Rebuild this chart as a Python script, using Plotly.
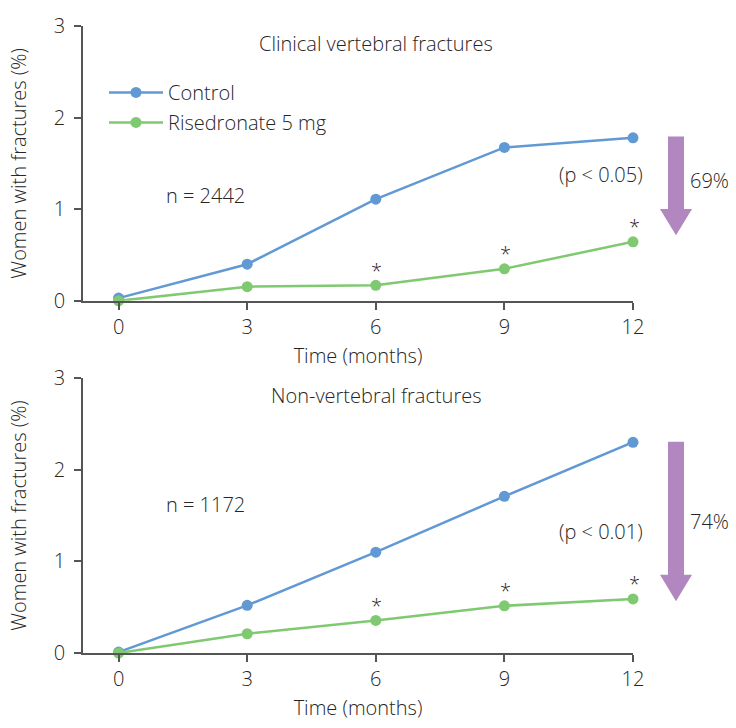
import plotly.graph_objects as go

months = [0, 3, 6, 9, 12]
tick_vals_y = [0, 1, 2, 3]

vert_control = [0.03, 0.40, 1.11, 1.675, 1.78]
vert_rise = [0.0, 0.155, 0.17, 0.35, 0.645]
nonvert_control = [0.01, 0.52, 1.10, 1.71, 2.30]
nonvert_rise = [0.0, 0.21, 0.355, 0.515, 0.59]

sig_months = [6, 9, 12]

titles = ["Clinical vertebral fractures", "Non-vertebral fractures"]
n_labels = ["n = 2442", "n = 1172"]
p_labels = ["(p < 0.05)", "(p < 0.01)"]
reductions = ["69%", "74%"]

BLUE = "#6199d4"
GREEN = "#7fc971"
PURPLE = "#b286bf"
TXT = "#262626"
AX = "#555555"
FONT = "Open Sans"
FS = 20
FW = 300

W, H = 736, 728
ML, MR, MT, MB = 83, 103, 17, 70
PW = W - ML - MR
PH = H - MT - MB


def px(x):
    return (x - ML) / PW


def py(y):
    return (H - MB - y) / PH


def fnt():
    return dict(family=FONT, size=FS, color=TXT, weight=FW)


fig = go.Figure()

panels = [
    ("x", "y", vert_control, vert_rise, True),
    ("x2", "y2", nonvert_control, nonvert_rise, False),
]
for xa, ya, ctrl, rise, leg in panels:
    fig.add_trace(go.Scatter(
        x=months, y=ctrl, mode="lines+markers", name="Control",
        line=dict(color=BLUE, width=2.5), marker=dict(size=11, color=BLUE),
        xaxis=xa, yaxis=ya, cliponaxis=False, showlegend=leg, legendgroup="c"))
    fig.add_trace(go.Scatter(
        x=months, y=rise, mode="lines+markers", name="Risedronate 5 mg",
        line=dict(color=GREEN, width=2.5), marker=dict(size=11, color=GREEN),
        xaxis=xa, yaxis=ya, cliponaxis=False, showlegend=leg, legendgroup="r"))

annotations = []
shapes = []

# asterisks
for xa, ya, rise in [("x", "y", vert_rise), ("x2", "y2", nonvert_rise)]:
    for m in sig_months:
        annotations.append(dict(
            x=m, y=rise[months.index(m)], xref=xa, yref=ya, text="*",
            showarrow=False, yshift=15, xshift=1, font=fnt()))

# panel texts
layout_px = [
    dict(title_y=35, n_y=190, p_y=169, r_y=175, arrow=(130, 204, 231)),
    dict(title_y=395, n_y=506, p_y=534, r_y=524, arrow=(442, 578, 605)),
]
for i, L in enumerate(layout_px):
    annotations.append(dict(x=px(376), y=py(L["title_y"]), xref="paper", yref="paper",
                            text=titles[i], showarrow=False, xanchor="center", yanchor="middle",
                            font=fnt()))
    annotations.append(dict(x=px(164), y=py(L["n_y"]), xref="paper", yref="paper",
                            text=n_labels[i], showarrow=False, xanchor="left", yanchor="middle",
                            font=fnt()))
    annotations.append(dict(x=px(645), y=py(L["p_y"]), xref="paper", yref="paper",
                            text=p_labels[i], showarrow=False, xanchor="right", yanchor="middle",
                            font=fnt()))
    annotations.append(dict(x=px(688), y=py(L["r_y"]), xref="paper", yref="paper",
                            text=reductions[i], showarrow=False, xanchor="left", yanchor="middle",
                            font=fnt()))
    top, hs, tip = L["arrow"]
    path = (f"M{px(668)},{py(top)} L{px(684)},{py(top)} L{px(684)},{py(hs)} "
            f"L{px(692)},{py(hs)} L{px(676)},{py(tip)} L{px(660)},{py(hs)} "
            f"L{px(668)},{py(hs)} Z")
    shapes.append(dict(type="path", path=path, xref="paper", yref="paper",
                       fillcolor=PURPLE, line=dict(width=0)))

axis_common = dict(showgrid=False, zeroline=False, showline=True, linecolor=AX, linewidth=1.5,
                   ticks="outside", tickcolor=AX, tickwidth=1.5, tickfont=fnt())

xcommon = dict(axis_common, range=[-0.83, 12], tickvals=months, ticklen=7,
               title=dict(text="Time (months)", font=fnt(), standoff=10))
ycommon = dict(axis_common, range=[0, 3], tickvals=tick_vals_y, ticklen=7, ticklabelstandoff=5,
               title=dict(text="Women with fractures (%)", font=fnt(), standoff=22))

top_dom = [py(298), 1]
bot_dom = [0, py(377)]

fig.update_layout(
    width=W, height=H,
    margin=dict(l=ML, r=MR, t=MT, b=MB),
    paper_bgcolor="white", plot_bgcolor="white",
    font=fnt(),
    xaxis=dict(xcommon, anchor="y", domain=[0, 1]),
    yaxis=dict(ycommon, anchor="x", domain=top_dom),
    xaxis2=dict(xcommon, anchor="y2", domain=[0, 1]),
    yaxis2=dict(ycommon, anchor="x2", domain=bot_dom),
    showlegend=True,
    legend=dict(x=px(104), y=py(65), xanchor="left", yanchor="top",
                bgcolor="rgba(0,0,0,0)", font=fnt(),
                itemwidth=54, tracegroupgap=1),
    annotations=annotations,
    shapes=shapes,
)

fig.write_html("out.html")
